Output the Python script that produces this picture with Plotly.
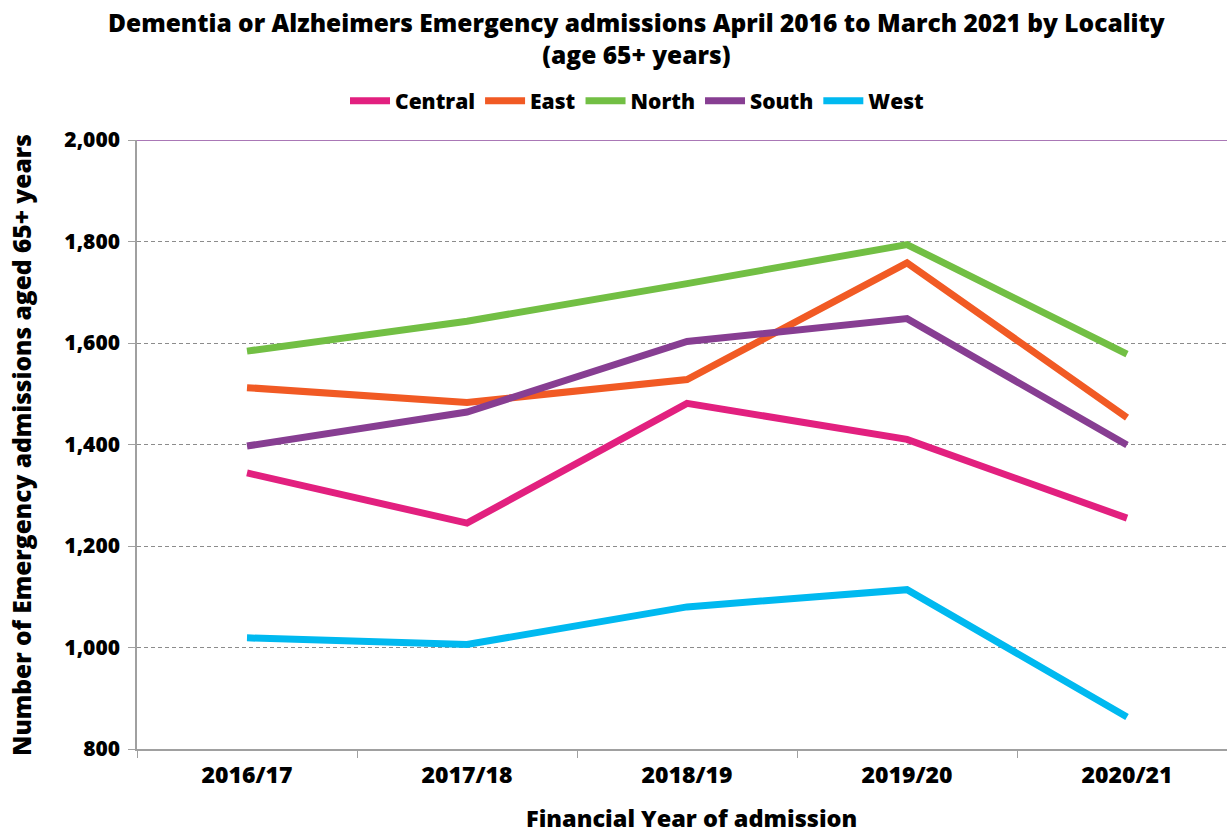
import plotly.graph_objects as go

years = ["2016/17", "2017/18", "2018/19", "2019/20", "2020/21"]
central = [1344, 1245, 1481, 1410, 1255]
east = [1512, 1483, 1528, 1758, 1453]
north = [1584, 1643, 1717, 1794, 1578]
south = [1397, 1464, 1603, 1648, 1399]
west = [1019, 1006, 1080, 1114, 863]

series = [
    ("Central", central, "#E2207F"),
    ("East", east, "#F15A24"),
    ("North", north, "#72BF44"),
    ("South", south, "#873E92"),
    ("West", west, "#00B9F0"),
]

FONT = "'Open Sans', Lato, 'DejaVu Sans', sans-serif"
W = 800

# plot area in pixels: left 137, top 140, bottom 749
TOP, BOT = 140, 749
def py(p):
    return (BOT - p) / (BOT - TOP)

fig = go.Figure()
for name, vals, col in series:
    fig.add_trace(go.Scatter(
        x=years, y=vals, name=name, mode="lines",
        line=dict(color=col, width=7),
    ))

fig.add_shape(type="line", xref="paper", yref="y", x0=0, x1=1, y0=2000, y1=2000,
              line=dict(color="#8E4B9E", width=1.5), layer="above")

fig.add_annotation(
    text="Dementia or Alzheimers Emergency admissions April 2016 to March 2021 by Locality<br>(age 65+ years)",
    xref="paper", yref="paper", x=(636 - 137) / 1090, y=py(4), xanchor="center", yanchor="top",
    showarrow=False, font=dict(size=24.5, family=FONT, color="black", weight=W),
)
fig.add_annotation(
    text="Financial Year of admission",
    xref="paper", yref="paper", x=(692 - 137) / 1090, y=py(835), xanchor="center", yanchor="bottom",
    showarrow=False, borderpad=0, font=dict(size=23.5, family=FONT, color="black", weight=W),
)
fig.add_annotation(
    text="Number of Emergency admissions aged 65+ years",
    xref="paper", yref="paper", x=(22 - 137) / 1090, y=py(445), xanchor="center", yanchor="middle",
    textangle=-90, showarrow=False, font=dict(size=24.5, family=FONT, color="black", weight=W),
)

fig.update_layout(
    width=1227, height=836,
    paper_bgcolor="white", plot_bgcolor="white",
    margin=dict(l=137, r=0, t=140, b=87, autoexpand=False),
    font=dict(family=FONT, color="black"),
    legend=dict(
        orientation="h", x=(637 - 137) / 1090, xanchor="center", y=py(101), yanchor="middle",
        font=dict(size=21, family=FONT, color="black", weight=W),
        itemwidth=40, tracegroupgap=0,
    ),
    showlegend=True,
)

fig.update_xaxes(
    type="category", range=[-0.5, 4.4545], automargin=False,
    showline=True, linecolor="#A0A0A0", linewidth=1.5,
    ticks="outside", tickson="boundaries", ticklen=7, tickcolor="#A0A0A0",
    ticklabelstandoff=5,
    showgrid=False,
    tickfont=dict(size=23, family=FONT, weight=W),
)
fig.update_yaxes(
    range=[800, 2000], dtick=200, tickformat=",", automargin=False,
    showline=True, linecolor="#A0A0A0", linewidth=1.5,
    ticks="outside", ticklen=7, tickcolor="#A0A0A0",
    ticklabelstandoff=4,
    showgrid=True, gridcolor="#8C8C8C", gridwidth=1.2, griddash="4px,3px",
    zeroline=False,
    tickfont=dict(size=21, family=FONT, weight=W),
)

fig.write_html(
    "out.html",
    config={"displayModeBar": False},
    post_script="document.body.style.margin='0';document.body.style.overflow='hidden';",
)
